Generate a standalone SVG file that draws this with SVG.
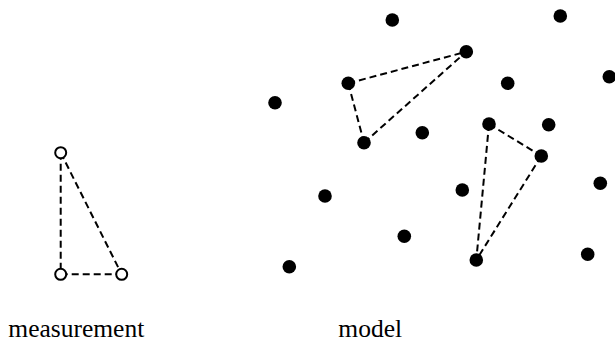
<svg xmlns="http://www.w3.org/2000/svg" width="615" height="342" viewBox="0 0 615 342">
<style>
.dot{fill:#000}
.open{fill:#fff;stroke:#000;stroke-width:2}
.edge{stroke:#000;stroke-width:2;stroke-dasharray:7,4;fill:none}
.lbl{font-family:"Liberation Serif","Times New Roman",serif;font-size:25.5px;fill:#000}
</style>
<rect width="615" height="342" fill="#fff"/>
<g id="connectors">
<line class="edge" x1="60.7" y1="152.7" x2="60.7" y2="274.3"/>
<line class="edge" x1="60.7" y1="152.7" x2="121.7" y2="274.3"/>
<line class="edge" x1="60.7" y1="274.3" x2="121.7" y2="274.3"/>
<line class="edge" x1="348.3" y1="83.3" x2="466.3" y2="51.7"/>
<line class="edge" x1="348.3" y1="83.3" x2="364" y2="142.7"/>
<line class="edge" x1="364" y1="142.7" x2="466.3" y2="51.7"/>
<line class="edge" x1="489" y1="124" x2="541.3" y2="156"/>
<line class="edge" x1="489" y1="124" x2="476.3" y2="260"/>
<line class="edge" x1="541.3" y1="156" x2="476.3" y2="260"/>
</g>
<g id="measurement">
<circle class="open" cx="60.7" cy="152.7" r="5.5"/>
<circle class="open" cx="60.7" cy="274.3" r="5.5"/>
<circle class="open" cx="121.7" cy="274.3" r="5.5"/>
<text class="lbl" x="8.3" y="336.5">measurement</text>
</g>
<g id="model">
<circle class="dot" cx="392.3" cy="20" r="6.8"/>
<circle class="dot" cx="560.3" cy="16" r="6.8"/>
<circle class="dot" cx="466.3" cy="51.7" r="6.8"/>
<circle class="dot" cx="348.3" cy="83.3" r="6.8"/>
<circle class="dot" cx="609.3" cy="76.7" r="6.8"/>
<circle class="dot" cx="507.7" cy="83.3" r="6.8"/>
<circle class="dot" cx="275" cy="102.7" r="6.8"/>
<circle class="dot" cx="422.3" cy="132.7" r="6.8"/>
<circle class="dot" cx="364" cy="142.7" r="6.8"/>
<circle class="dot" cx="489" cy="124" r="6.8"/>
<circle class="dot" cx="548.7" cy="124.7" r="6.8"/>
<circle class="dot" cx="541.3" cy="156" r="6.8"/>
<circle class="dot" cx="600.3" cy="183.3" r="6.8"/>
<circle class="dot" cx="462.3" cy="190" r="6.8"/>
<circle class="dot" cx="325" cy="196" r="6.8"/>
<circle class="dot" cx="404.3" cy="236.3" r="6.8"/>
<circle class="dot" cx="476.3" cy="260" r="6.8"/>
<circle class="dot" cx="587.7" cy="254.3" r="6.8"/>
<circle class="dot" cx="289.3" cy="266.7" r="6.8"/>
<text class="lbl" x="338.3" y="336.5">model</text>
</g>
</svg>
